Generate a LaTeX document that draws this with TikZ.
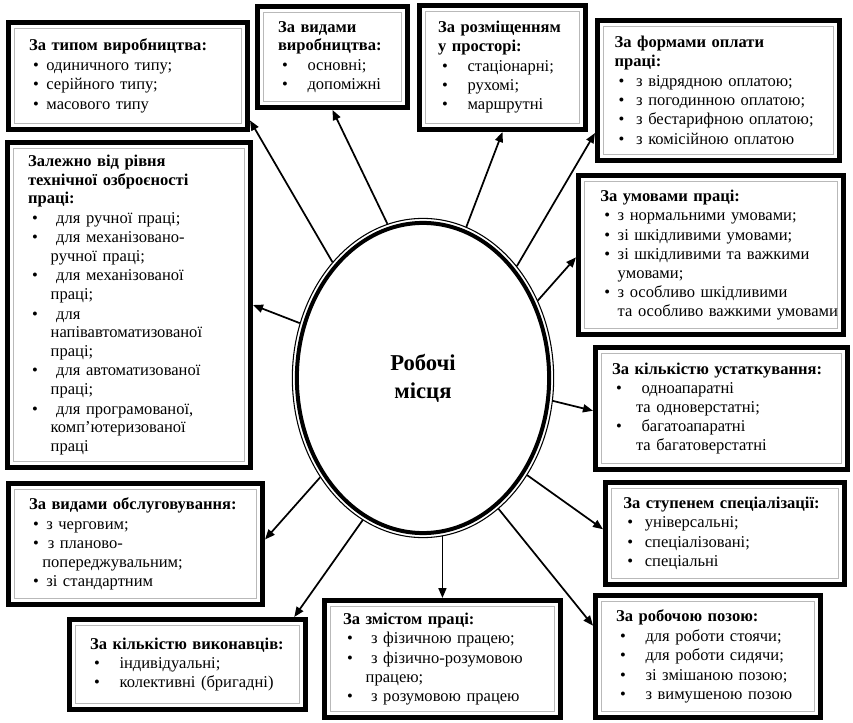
\documentclass[tikz,border=0pt]{standalone}
\usepackage{fontspec}
\setmainfont{Liberation Serif}
\usetikzlibrary{shapes.geometric, arrows.meta, positioning}

\newcommand{\itm}[1][13pt]{\makebox[#1][l]{\hspace{3pt}\textbullet}}
\newcommand{\cnt}[1][13pt]{\hspace*{#1}}
\newcommand{\nx}{\\[0.6pt]}

\tikzset{
  frame/.style={draw, line width=3.6pt, inner xsep=0pt, inner ysep=2pt, align=left,
    font=\fontsize{12.4}{14}\selectfont,
    execute at begin node={\rightskip=-60pt plus 1fil},
    path picture={\draw[line width=0.45pt, double=gray!55, double distance=0.5pt]
      ([shift={(4.6pt,4.6pt)}]path picture bounding box.south west) rectangle
      ([shift={(-4.6pt,-4.6pt)}]path picture bounding box.north east);}},
  arr/.style={-{Triangle[length=7.5pt,width=6pt]}, line width=1.3pt}
}

\begin{document}
\begin{tikzpicture}[x=0.75pt, y=-0.75pt]
\useasboundingbox (0,0) rectangle (853,723);

% centre
\node[ellipse, draw, line width=0.8pt, minimum width=196pt, minimum height=239.4pt,
  inner sep=0pt, align=center, font=\fontsize{17}{21}\selectfont\bfseries,
  path picture={\draw[line width=3pt] (path picture bounding box.center)
    ellipse [x radius=94.6pt, y radius=116.3pt];}] (rm) at (423,378) {Робочі\\місця};

% top row
\node[frame, minimum width=179.4pt, minimum height=80.4pt, text width=179.4pt-31pt] (typ) at (128,76)
  {\textbf{За типом виробництва:}\nx \itm одиничного типу;\nx \itm серійного типу;\nx \itm масового типу};
\node[frame, minimum width=112.7pt, minimum height=75.9pt, text width=112.7pt-31pt] (vyd) at (332.5,57)
  {\textbf{За видами}\\\textbf{виробництва:}\nx \itm[18pt] основні;\nx \itm[18pt] допоміжні};
\node[frame, minimum width=124.7pt, minimum height=93.2pt, text width=124.7pt-28pt] (rozm) at (502.5,67.5)
  {\textbf{За розміщенням}\\\textbf{у просторі:}\nx \itm[18pt] стаціонарні;\nx \itm[18pt] рухомі;\nx \itm[18pt] маршрутні};
\node[frame, minimum width=181.7pt, minimum height=105.2pt, text width=181.7pt-26pt] (form) at (718.5,90.5)
  {\textbf{За формами оплати}\\\textbf{праці:}\nx \itm[12pt] з відрядною оплатою;\nx \itm[12pt] з погодинною оплатою;\nx
   \itm[12pt] з бестарифною оплатою;\nx \itm[12pt] з комісійною оплатою};

% left side
\node[frame, minimum width=182.4pt, minimum height=243.9pt, text width=182.4pt-31pt] (tech) at (129,305)
  {\textbf{Залежно від рівня}\\\textbf{технічної озброєності}\\\textbf{праці:}\nx
   \itm[17pt] для ручної праці;\nx
   \itm[17pt] для механізовано-\\\cnt[17pt]ручної праці;\nx
   \itm[17pt] для механізованої\\\cnt[17pt]праці;\nx
   \itm[17pt] для\\\cnt[17pt]напівавтоматизованої\\\cnt[17pt]праці;\nx
   \itm[17pt] для автоматизованої\\\cnt[17pt]праці;\nx
   \itm[17pt] для програмованої,\\\cnt[17pt]комп’ютеризованої\\\cnt[17pt]праці};
\node[frame, minimum width=190.7pt, minimum height=90.9pt, text width=190.7pt-31pt] (obsl) at (135.5,544)
  {\textbf{За видами обслуговування:}\nx \itm з черговим;\nx \itm[10pt] з планово-\\\cnt[10pt]попереджувальним;\nx \itm зі стандартним};

% bottom row
\node[frame, minimum width=177.2pt, minimum height=67.7pt, text width=177.2pt-31pt] (vykon) at (187.5,664.5)
  {\textbf{За кількістю виконавців:}\nx \itm[18pt] індивідуальні;\nx \itm[18pt] колективні (бригадні)};
\node[frame, minimum width=177.2pt, minimum height=87.9pt, text width=177.2pt-28pt] (zmist) at (442.5,659)
  {\textbf{За змістом праці:}\nx \itm[17pt] з фізичною працею;\nx \itm[17pt] з фізично-розумовою\\\cnt[17pt]працею;\nx \itm[17pt] з розумовою працею};
\node[frame, minimum width=168.9pt, minimum height=91.7pt, text width=168.9pt-31pt] (poza) at (708,656.5)
  {\textbf{За робочою позою:}\nx \itm[18pt] для роботи стоячи;\nx \itm[18pt] для роботи сидячи;\nx
   \itm[18pt] зі змішаною позою;\nx \itm[18pt] з вимушеною позою};

% right side
\node[frame, minimum width=198.9pt, minimum height=119.4pt, text width=198.9pt-33pt] (umov) at (711,255)
  {\textbf{За умовами праці:}\nx \itm з нормальними умовами;\nx \itm зі шкідливими умовами;\nx
   \itm зі шкідливими та важкими\\\cnt умовами;\nx \itm з особливо шкідливими\\\cnt та особливо важкими умовами};
\node[frame, minimum width=189.2pt, minimum height=91.7pt, text width=189.2pt-25pt] (ustat) at (721.5,408.5)
  {\textbf{За кількістю устаткування:}\nx \itm[18pt] одноапаратні\\\cnt[18pt]та одноверстатні;\nx
   \itm[18pt] багатоапаратні\\\cnt[18pt]та багатоверстатні};
\node[frame, minimum width=179.4pt, minimum height=76.7pt, text width=179.4pt-27pt] (spec) at (725,533.5)
  {\textbf{За ступенем спеціалізації:}\nx \itm[12pt] універсальні;\nx \itm[12pt] спеціалізовані;\nx \itm[12pt] спеціальні};

% arrows
\draw[arr] (rm.128) -- (typ.-20);
\draw[arr] (rm.103) -- (vyd.south);
\draw[arr] (rm.74) -- (rozm.south);
\draw[arr] (rm.50) -- (form.199);
\draw[arr] (rm.34) -- (umov.181);
\draw[arr] (rm.-10) -- (ustat.181);
\draw[arr] (rm.-43) -- (spec.178);
\draw[arr] (rm.-60) -- (poza.165);
\draw[arr] (rm.-83) -- (rm.-83 |- zmist.north);
\draw[arr] (rm.247) -- (vykon.24);
\draw[arr] (rm.224) -- (obsl.2);
\draw[arr] (rm.156) -- (tech.east);
\end{tikzpicture}
\end{document}
